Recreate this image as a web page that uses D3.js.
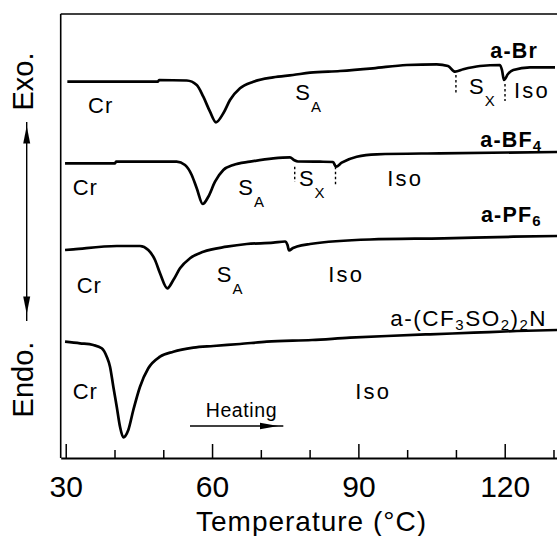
<!DOCTYPE html>
<html><head><meta charset="utf-8">
<script src="https://cdn.jsdelivr.net/npm/d3@7"></script>
<style>
html,body{margin:0;padding:0;background:#fff;}
svg{display:block;}
text{font-family:Arial,"Liberation Sans",sans-serif;fill:#000;}
</style></head><body>
<svg id="c" width="557" height="536"></svg>
<script>
// ---- data (temperature in °C, heat flow in arbitrary offset units) ----
const xTickMajor = [30, 60, 90, 120];
const xTickMinor = [40, 50, 70, 80, 100, 110, 130];

const brT = [30.33,48.92,49.13,54.81,56.86,58.21,59.58,60.81,62.31,63.68,65.73,68.46,72.50,76.60,80.08,86.23,93.0,99.91,106.06,108.38,109.81,111.51,114.93,119.03,119.44,119.85,120.67,121.76,125.18,130.31];
const brV = [376.3,376.3,378,377.5,373,361.3,346.3,335.7,344.7,358,369.7,376.3,380.7,383,385.3,387,389.7,393,393.7,392,386.3,388.7,392,393,388,378,384,388,390.7,390.7];

const bf4T = [29.86,40.11,40.31,52.76,54.46,55.83,56.86,58.09,59.23,60.61,62.31,64.36,67.78,72.56,75.98,76.80,77.62,82.13,84.80,85.41,86.58,89.66,93.76,106.73,130.72];
const bf4V = [294.7,294.7,296.3,296.3,293,283,269.7,254,261.3,276.3,288,293,296.3,299.7,300.7,298,296.5,296.3,296,291.3,295.3,301.3,303.7,304.7,306];

const pf6T = [29.86,31.56,40.46,45.23,46.93,48.31,49.33,50.83,52.06,53.43,55.48,58.21,63.01,67.11,72.56,74.96,75.47,75.78,76.60,77.42,80.08,92.38,107.45,121.76,130.72];
const pf6V = [208,208.7,212,212,208,198,184.7,169.7,178,189.7,199.7,206.3,211.3,214,215.3,216.5,213,207.5,210,211.5,214,218.5,219.7,221.3,222];

const tfsiT = [29.86,32.93,35.66,37.38,38.41,39.08,39.76,40.46,41.13,41.81,42.83,43.86,45.23,46.93,49.33,52.06,56.16,60.26,65.73,71.21,80.49,88.28,95.87,104.68,113.64,122.52,130.72];
const tfsiV = [116.3,114.7,113,109.7,101.3,91.3,71.3,51.3,31.3,20.7,28,48,71.3,89.7,101.3,106.3,110.3,112,114,116.3,118,120.3,122,123.7,125.3,127,128];

// phase transition markers (temperature, heat-flow span)
const transT  = [110.0, 120.06, 76.95, 85.31];
const transV0 = [383, 374, 291.3, 291.3];
const transV1 = [363, 357, 276, 273];

// ---- layout ----
const svg = d3.select("#c");
const x = d3.scaleLinear().domain([28.97, 130.72]).range([60.7, 557]);
const y = d3.scaleLinear().domain([0, 444]).range([458, 14]);

// frame: top line and left axis line
svg.append("line").attr("x1", x.range()[0]).attr("x2", x.range()[1])
  .attr("y1", y.range()[1]).attr("y2", y.range()[1])
  .attr("stroke", "#000").attr("stroke-width", 1.6);
svg.append("line").attr("x1", x.range()[0]).attr("x2", x.range()[0])
  .attr("y1", y.range()[1]).attr("y2", y.range()[0])
  .attr("stroke", "#000").attr("stroke-width", 1.6);

// x axis: minor ticks
const gMinor = svg.append("g").attr("transform", `translate(0,${y(0)})`)
  .call(d3.axisBottom(x).tickValues(xTickMinor).tickSize(-8).tickSizeOuter(0).tickFormat(""));
gMinor.select(".domain").remove();
gMinor.selectAll(".tick line").attr("stroke-width", 1.5);

// x axis: major ticks with labels
const gMajor = svg.append("g").attr("transform", `translate(0,${y(0)})`)
  .call(d3.axisBottom(x).tickValues(xTickMajor).tickSize(-14).tickSizeOuter(0).tickPadding(18).tickFormat(d3.format("d")));
gMajor.select(".domain").attr("stroke-width", 1.8);
gMajor.selectAll(".tick line").attr("stroke-width", 1.5);
gMajor.selectAll(".tick text").attr("font-size", 30).attr("font-family", "Arial, 'Liberation Sans', sans-serif").attr("fill", "#000");

// axis title
svg.append("text").attr("x", 311.5).attr("y", 531).attr("text-anchor", "middle")
  .attr("font-size", 28).attr("letter-spacing", 1).text("Temperature (°C)");

// Exo / Endo labels and arrow
svg.append("text").attr("transform", "translate(33,81.5) rotate(-90)").attr("text-anchor", "middle")
  .attr("font-size", 29).text("Exo.");
svg.append("text").attr("transform", "translate(33,379.5) rotate(-90)").attr("text-anchor", "middle")
  .attr("font-size", 29).text("Endo.");
svg.append("line").attr("x1", 26.7).attr("x2", 26.7).attr("y1", 122).attr("y2", 321)
  .attr("stroke", "#000").attr("stroke-width", 1.4);
svg.append("path").attr("d", "M26.7,126 L30.2,143.5 L23.2,143.5 Z").attr("fill", "#000");
svg.append("path").attr("d", "M26.7,314 L30.2,296.5 L23.2,296.5 Z").attr("fill", "#000");

// curves
const line = d3.line().x(d => x(d[0])).y(d => y(d[1])).curve(d3.curveMonotoneX);
const series = [[brT, brV], [bf4T, bf4V], [pf6T, pf6V], [tfsiT, tfsiV]];
series.forEach(([T, V]) => {
  svg.append("path").datum(T.map((t, i) => [t, V[i]]))
    .attr("d", line).attr("fill", "none").attr("stroke", "#000")
    .attr("stroke-width", 2.7).attr("stroke-linejoin", "round");
});

// dotted transition markers
transT.forEach((t, i) => {
  svg.append("line").attr("x1", x(t)).attr("x2", x(t))
    .attr("y1", y(transV0[i])).attr("y2", y(transV1[i]))
    .attr("stroke", "#000").attr("stroke-width", 1.4).attr("stroke-dasharray", "2.5,2.5");
});

// phase labels (anchored in data space)
const phaseLabels = [
  {t: "Cr", T: 34.57, v: 344.7},
  {t: "S", s: "A", T: 77.07, v: 358},
  {t: "S", s: "X", T: 112.7, v: 364},
  {t: "Iso", T: 121.9, v: 359.7},
  {t: "Cr", T: 31.43, v: 263},
  {t: "S", s: "A", T: 65.38, v: 263},
  {t: "S", s: "X", T: 77.8, v: 272.5},
  {t: "Iso", T: 95.9, v: 272.5},
  {t: "Cr", T: 32.26, v: 164.7},
  {t: "S", s: "A", T: 60.96, v: 176.3},
  {t: "Iso", T: 83.83, v: 176.3},
  {t: "Cr", T: 31.43, v: 58.7},
  {t: "Iso", T: 89.37, v: 58.7}
];
phaseLabels.forEach(d => {
  const tx = svg.append("text").attr("x", x(d.T)).attr("y", y(d.v))
    .attr("font-size", 22).attr("letter-spacing", d.t === "Iso" ? 2.2 : 1);
  tx.append("tspan").text(d.t);
  if (d.s) tx.append("tspan").attr("font-size", 15).attr("dy", 12).text(d.s);
});

// sample names
const nameLabels = [
  {parts: [["a-Br", 0]], T: 117.05, v: 400.3, bold: true},
  {parts: [["a-BF", 0], ["4", 1]], T: 114.99, v: 311.3, bold: true},
  {parts: [["a-PF", 0], ["6", 1]], T: 115.13, v: 236.3, bold: true},
  {parts: [["a-(CF", 0], ["3", 1], ["SO", 0], ["2", 1], [")", 0], ["2", 1], ["N", 0]], T: 96.54, v: 132, bold: false}
];
nameLabels.forEach(d => {
  const tx = svg.append("text").attr("x", x(d.T)).attr("y", y(d.v))
    .attr("font-size", d.bold ? 21.5 : 22.5).attr("font-weight", d.bold ? "bold" : "normal")
    .attr("letter-spacing", d.bold ? 1.2 : 1.5);
  let sub = false;
  d.parts.forEach(([txt, isSub]) => {
    const ts = tx.append("tspan").text(txt);
    if (isSub) {
      ts.attr("font-size", 15);
      if (!sub) { ts.attr("dy", 4); sub = true; }
    } else if (sub) { ts.attr("dy", -4); sub = false; }
  });
});

// heating arrow
svg.append("text").attr("x", x(58.7)).attr("y", y(41.3)).attr("font-size", 19.5)
  .attr("letter-spacing", 0.6).text("Heating");
svg.append("line").attr("x1", x(55.48)).attr("x2", x(74.61)).attr("y1", y(32)).attr("y2", y(32))
  .attr("stroke", "#000").attr("stroke-width", 1.3);
svg.append("path").attr("d",
  `M${x(73.58)},${y(32)} L${x(69.83)},${y(32) - 3.2} L${x(69.83)},${y(32) + 3.2} Z`).attr("fill", "#000");
</script>
</body></html>
